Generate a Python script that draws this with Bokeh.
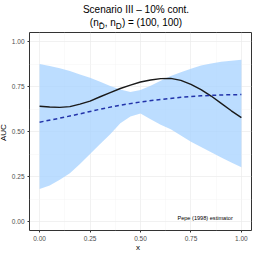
from bokeh.plotting import figure
from bokeh.models import FixedTicker, PrintfTickFormatter, Label, Range1d, Div
from bokeh.layouts import column, row
from bokeh.embed import file_html
from bokeh.resources import INLINE

# ---- data ----
x_grid = [0, .05, .1, .15, .2, .25, .3, .35, .4, .45, .5, .55, .6, .65, .7, .75, .8, .85, .9, .95, 1.0]
band_upper = [.875, .864, .852, .836, .817, .798, .777, .753, .733, .720, .730, .754, .782, .808, .829, .848, .866, .878, .887, .893, .898]
band_lower = [.180, .200, .232, .268, .319, .375, .430, .485, .546, .584, .600, .568, .538, .513, .478, .443, .414, .385, .355, .328, .301]
true_auc = [.640, .636, .634, .638, .652, .669, .693, .716, .739, .758, .775, .786, .794, .795, .784, .762, .733, .697, .656, .615, .577]
x_mean = [0, .1, .2, .3, .4, .5, .6, .7, .8, .9, 1.0]
mean_auc = [.552, .574, .598, .624, .646, .664, .678, .690, .698, .703, .705]
tick_vals = [0, .25, .5, .75, 1.0]
minor_vals = [.125, .375, .625, .875]
title_text = "Scenario III \u2013 10% cont."
subtitle_html = "(n<sub>D\u0304</sub>, n<sub>D</sub>) = (100, 100)"
x_label = "x"
y_label = "AUC"
note_text = "Pepe (1998) estimator"

FONT = "Liberation Sans"

head = Div(text=(
    f'<div style="width:254px;text-align:center;padding-left:18px;padding-top:3px;box-sizing:border-box;'
    f'font-family:\'{FONT}\';font-size:10px;line-height:13px;color:black;">'
    f'{title_text}<br>{subtitle_html}</div>'),
    width=254, height=31, margin=(0, 0, 0, 0))

ydiv = Div(text=(
    f'<div style="width:8px;height:202px;margin-top:1px;display:flex;align-items:center;'
    f'justify-content:center;writing-mode:vertical-rl;transform:rotate(180deg);'
    f'font-family:\'{FONT}\';font-size:8px;color:black;box-sizing:border-box;">'
    f'{y_label}</div>'),
    width=8, height=212, margin=(0, 0, 0, 0))

xdiv = Div(text=(
    f'<div style="width:254px;text-align:center;padding-left:22px;box-sizing:border-box;'
    f'position:relative;top:-5px;'
    f'font-family:\'{FONT}\';font-size:8px;line-height:8px;color:black;">{x_label}</div>'),
    width=254, height=11, margin=(0, 0, 0, 0))

p = figure(width=246, height=212, output_backend="svg", toolbar_location=None,
           x_range=Range1d(-0.05, 1.05), y_range=Range1d(-0.05, 1.05),
           min_border_top=1, min_border_right=3, min_border_left=0, min_border_bottom=0,
           margin=(0, 0, 0, 0))
p.background_fill_color = "white"
p.border_fill_color = "white"
p.outline_line_color = "#333333"
p.outline_line_width = 1

for ax in (p.xaxis, p.yaxis):
    ax.ticker = FixedTicker(ticks=tick_vals, minor_ticks=minor_vals)
    ax.formatter = PrintfTickFormatter(format="%.2f")
    ax.axis_line_color = None
    ax.major_tick_line_color = "#333333"
    ax.major_tick_out = 2
    ax.major_tick_in = 0
    ax.minor_tick_line_color = None
    ax.major_label_text_font = FONT
    ax.major_label_text_font_size = "6.5px"
    ax.major_label_text_color = "#4D4D4D"
    ax.major_label_standoff = 1

for g in (p.xgrid, p.ygrid):
    g.grid_line_color = "#EBEBEB"
    g.grid_line_width = 0.7
    g.minor_grid_line_color = "#F4F4F4"
    g.minor_grid_line_width = 0.5

p.varea(x=x_grid, y1=band_lower, y2=band_upper, fill_color="#A6D2FF", fill_alpha=0.75)
p.line(x_grid, true_auc, line_color="#1A1A1A", line_width=1.4)
p.line(x_mean, mean_auc, line_color="#2233AA", line_width=1.5, line_dash="4 3")

p.add_layout(Label(x=0.82, y=0.02, text=note_text, text_font=FONT, text_font_size="5.6px",
                   text_align="center", text_baseline="middle", text_color="black"))

layout = column(head, row(ydiv, p, spacing=0, margin=(0, 0, 0, 0)), xdiv,
                spacing=0, margin=(0, 0, 0, 0))
open("out.html", "w").write(file_html(layout, INLINE))
